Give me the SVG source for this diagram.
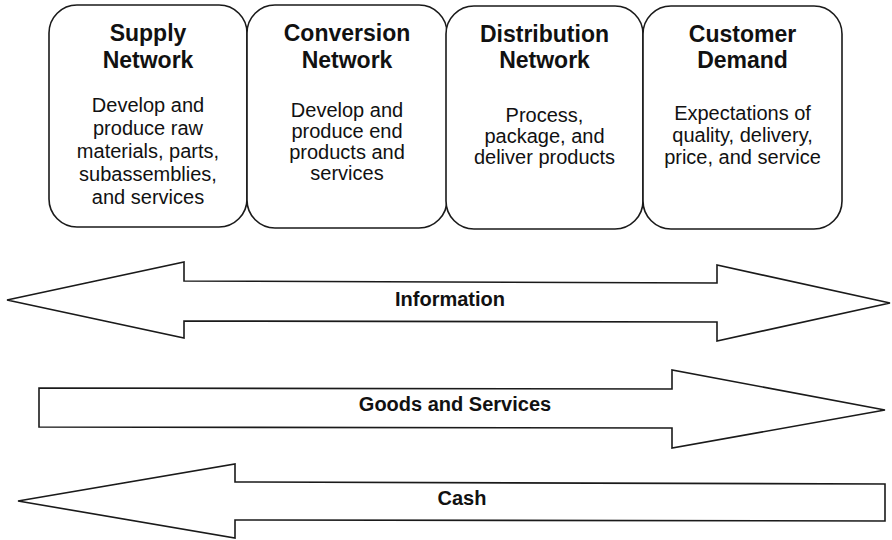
<svg xmlns="http://www.w3.org/2000/svg" width="892" height="540" viewBox="0 0 892 540">
<style>
.box{fill:#fff;stroke:#1a1a1a;stroke-width:1.6}
.arrow{fill:#fff;stroke:#1a1a1a;stroke-width:1.6;stroke-linejoin:miter}
.title{font-family:"Liberation Sans",Arial,sans-serif;font-weight:bold;font-size:23px;fill:#111;text-anchor:middle}
.body{font-family:"Liberation Sans",Arial,sans-serif;font-size:20px;fill:#111;text-anchor:middle}
.lbl{font-family:"Liberation Sans",Arial,sans-serif;font-weight:bold;font-size:20px;fill:#111;text-anchor:middle}
</style>
<rect width="892" height="540" fill="#fff"/>
<g id="supply">
<rect class="box" x="49" y="5" width="198" height="222" rx="28"/>
<text class="title" x="148" y="41">Supply</text>
<text class="title" x="148" y="68">Network</text>
<text class="body" x="148" y="112">Develop and</text>
<text class="body" x="148" y="135">produce raw</text>
<text class="body" x="148" y="158">materials, parts,</text>
<text class="body" x="148" y="181">subassemblies,</text>
<text class="body" x="148" y="204">and services</text>
</g>
<g id="conversion">
<rect class="box" x="247" y="5" width="200" height="223" rx="28"/>
<text class="title" x="347" y="41">Conversion</text>
<text class="title" x="347" y="68">Network</text>
<text class="body" x="347" y="117">Develop and</text>
<text class="body" x="347" y="138">produce end</text>
<text class="body" x="347" y="159">products and</text>
<text class="body" x="347" y="180">services</text>
</g>
<g id="distribution">
<rect class="box" x="446" y="6" width="197" height="223" rx="28"/>
<text class="title" x="544.5" y="42">Distribution</text>
<text class="title" x="544.5" y="68">Network</text>
<text class="body" x="544.5" y="122">Process,</text>
<text class="body" x="544.5" y="143">package, and</text>
<text class="body" x="544.5" y="164">deliver products</text>
</g>
<g id="customer">
<rect class="box" x="643" y="6" width="199" height="223" rx="28"/>
<text class="title" x="742.5" y="42">Customer</text>
<text class="title" x="742.5" y="68">Demand</text>
<text class="body" x="742.5" y="120">Expectations of</text>
<text class="body" x="742.5" y="142">quality, delivery,</text>
<text class="body" x="742.5" y="164">price, and service</text>
</g>
<g id="connectors">
<g id="information">
<polygon class="arrow" points="7,300 184,262 184,281 717,283 717,265 890,303 717,341 717,322 184,321 184,338"/>
<text class="lbl" x="450" y="306">Information</text>
</g>
<g id="goods">
<polygon class="arrow" points="39,388 672,389 672,370 885,410 672,448 672,428 39,427"/>
<text class="lbl" x="455" y="411">Goods and Services</text>
</g>
<g id="cash">
<polygon class="arrow" points="18,501 235,464 235,482 885,484 885,521 235,520 235,538"/>
<text class="lbl" x="462" y="505">Cash</text>
</g>
</g>
</svg>
